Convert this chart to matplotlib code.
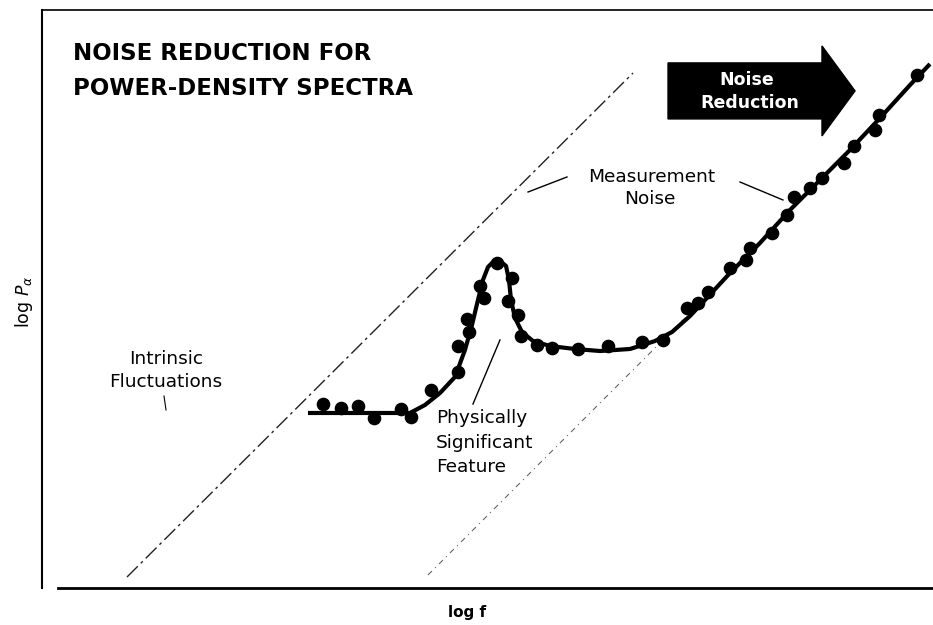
import matplotlib
matplotlib.use("Agg")
import matplotlib.pyplot as plt
from matplotlib.patches import FancyArrow

plt.rcParams['font.family'] = ['DejaVu Sans']

# ---- data (log f, log P units, 0..10 axes) ----
dots_x = [3.154, 3.356, 3.547, 3.726, 4.029, 4.141, 4.366, 4.669, 4.669, 4.792,
          4.770, 4.961, 4.916, 5.107, 5.275, 5.230, 5.342, 5.376, 5.556, 5.724,
          6.016, 6.352, 6.734, 6.970, 7.239, 7.363, 7.475, 7.722, 7.901, 7.946,
          8.193, 8.361, 8.440, 8.620, 8.754, 9.001, 9.113, 9.349, 9.394, 9.820]
dots_y = [3.183, 3.114, 3.149, 2.941, 3.097, 2.958, 3.426, 3.737, 4.187, 4.429,
          4.654, 5.017, 5.225, 5.623, 5.363, 4.965, 4.723, 4.360, 4.204, 4.152,
          4.135, 4.187, 4.256, 4.291, 4.844, 4.931, 5.121, 5.536, 5.675, 5.882,
          6.142, 6.453, 6.765, 6.920, 7.093, 7.353, 7.647, 7.924, 8.183, 8.875]

curve_x = [2.985, 3.345, 3.793, 4.130, 4.298, 4.467, 4.635, 4.747, 4.826, 4.893,
           4.949, 5.006, 5.073, 5.140, 5.208, 5.241, 5.264, 5.309, 5.387, 5.511,
           5.701, 5.982, 6.263, 6.599, 6.880, 7.071, 7.273, 7.441, 7.722, 8.058,
           8.395, 8.732, 9.068, 9.405, 9.742, 9.966]
curve_y = [3.028, 3.028, 3.028, 3.028, 3.166, 3.374, 3.651, 4.118, 4.550, 4.983,
           5.329, 5.554, 5.657, 5.657, 5.571, 5.329, 4.983, 4.671, 4.429, 4.273,
           4.187, 4.135, 4.100, 4.135, 4.273, 4.429, 4.706, 4.983, 5.450, 5.969,
           6.540, 7.059, 7.578, 8.131, 8.702, 9.066]

intrinsic_x = [0.954, 6.633]
intrinsic_y = [0.190, 8.910]
noise_x = [4.332, 7.385]
noise_y = [0.225, 4.931]

title_lines = ["NOISE REDUCTION FOR", "POWER-DENSITY SPECTRA"]

fig = plt.figure(figsize=(9.33, 6.25), dpi=100)
ax = fig.add_axes([42/933, 37/625, 891/933, 578/625])
ax.set_xlim(0, 10)
ax.set_ylim(0, 10)
ax.set_xticks([])
ax.set_yticks([])
ax.spines['right'].set_visible(False)
ax.spines['left'].set_linewidth(1.5)
ax.spines['top'].set_linewidth(1.2)
ax.spines['bottom'].set_linewidth(2.0)
ax.spines['bottom'].set_bounds(0.18, 10)

# reference lines
ax.plot(intrinsic_x, intrinsic_y, color='#222222', lw=1.0,
        linestyle=(0, (11, 3, 2, 3)), zorder=1)
ax.plot(noise_x, noise_y, color='#666666', lw=0.8,
        linestyle=(0, (5, 4, 1, 4)), zorder=1)

# spectrum
ax.plot(curve_x, curve_y, color='black', lw=3, solid_capstyle='butt', zorder=3)
ax.plot(dots_x, dots_y, 'o', color='black', markersize=8.8, zorder=4)

# title
ax.text(0.348, 9.135, title_lines[0], fontsize=16.5, fontweight='bold', va='baseline', ha='left')
ax.text(0.348, 8.529, title_lines[1], fontsize=16.5, fontweight='bold', va='baseline', ha='left')

# arrow
arr = FancyArrow(7.026, 8.60, 2.099, 0, width=0.969, head_width=1.557,
                 head_length=0.371, length_includes_head=True,
                 color='black', zorder=5)
ax.add_patch(arr)
ax.text(7.912, 8.702, "Noise", color='white', fontsize=12.5, fontweight='bold',
        ha='center', va='baseline', zorder=6)
ax.text(7.946, 8.304, "Reduction", color='white', fontsize=12.5, fontweight='bold',
        ha='center', va='baseline', zorder=6)

# annotations
fs = 13.3
ax.text(1.392, 3.875, "Intrinsic", fontsize=fs, ha='center', va='baseline')
ax.text(1.392, 3.478, "Fluctuations", fontsize=fs, ha='center', va='baseline')
ax.plot([1.369, 1.392], [3.322, 3.080], color='black', lw=0.8)

ax.text(6.846, 7.024, "Measurement", fontsize=fs, ha='center', va='baseline')
ax.text(6.824, 6.644, "Noise", fontsize=fs, ha='center', va='baseline')
ax.plot([5.455, 5.892], [6.851, 7.111], color='black', lw=1.0)
ax.plot([7.834, 8.316], [7.024, 6.713], color='black', lw=1.0)

ax.text(4.422, 2.849, "Physically", fontsize=fs, ha='left', va='baseline')
ax.text(4.422, 2.428, "Significant", fontsize=fs, ha='left', va='baseline')
ax.text(4.422, 2.012, "Feature", fontsize=fs, ha='left', va='baseline')
ax.plot([5.140, 4.837], [4.291, 3.183], color='black', lw=1.0)

# axis labels
fig.text(467/933, 1 - 612/625, "log f", fontsize=11, fontweight='bold',
         ha='center', va='center')
fig.text(24/933, 1 - 302/625, r"log $P_{\alpha}$", fontsize=12.5, rotation=90,
         ha='center', va='center')

fig.savefig("out.png", dpi=100)
